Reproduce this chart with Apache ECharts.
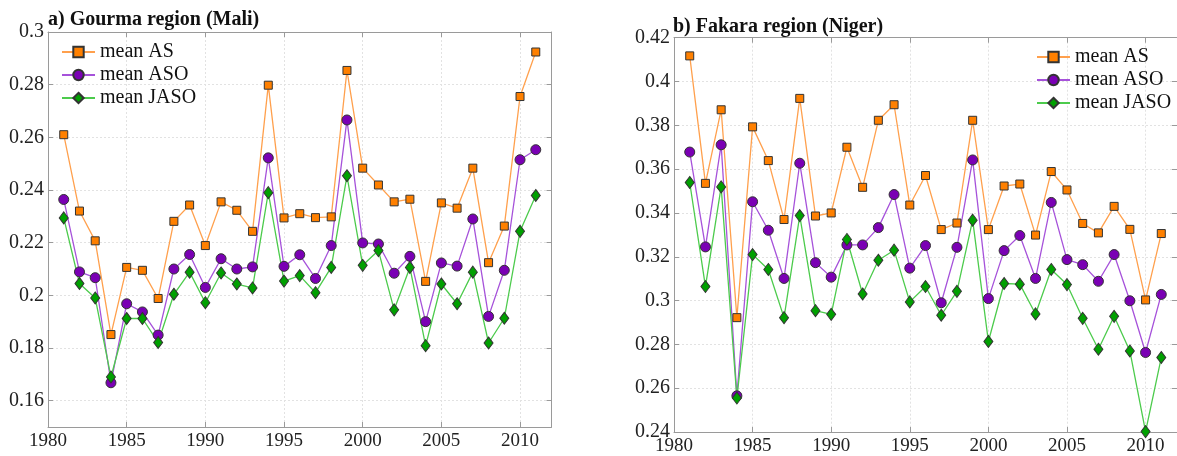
<!DOCTYPE html>
<html><head><meta charset="utf-8">
<script src="https://cdn.jsdelivr.net/npm/echarts@6/dist/echarts.min.js"></script>
<style>html,body{margin:0;padding:0;background:#fff}#c{width:1177px;height:456px}</style>
</head><body><div id="c"></div>
<script>
const years = [1981,1982,1983,1984,1985,1986,1987,1988,1989,1990,1991,1992,1993,1994,1995,1996,1997,1998,1999,2000,2001,2002,2003,2004,2005,2006,2007,2008,2009,2010,2011];

// a) Gourma region (Mali)
const gourmaAS   = [0.261,0.232,0.2207,0.1851,0.2106,0.2095,0.1988,0.2281,0.2343,0.2189,0.2355,0.2323,0.2243,0.2798,0.2294,0.231,0.2295,0.2298,0.2854,0.2483,0.2419,0.2355,0.2365,0.2053,0.2351,0.2331,0.2483,0.2124,0.2263,0.2755,0.2924];
const gourmaASO  = [0.2364,0.2089,0.2067,0.1668,0.1968,0.1937,0.1849,0.21,0.2155,0.203,0.2139,0.21,0.2108,0.2522,0.211,0.2154,0.2064,0.2189,0.2666,0.2199,0.2195,0.2084,0.2148,0.19,0.2123,0.2111,0.229,0.192,0.2095,0.2515,0.2553];
const gourmaJASO = [0.2294,0.2045,0.199,0.169,0.1912,0.1912,0.1821,0.2004,0.2088,0.1972,0.2085,0.2043,0.2028,0.239,0.2054,0.2075,0.201,0.2106,0.2454,0.2114,0.217,0.1945,0.2106,0.1809,0.2043,0.1968,0.2088,0.1819,0.1913,0.2243,0.2379];

// b) Fakara region (Niger)
const fakaraAS   = [0.4117,0.3535,0.3871,0.2922,0.3793,0.3639,0.337,0.3923,0.3386,0.34,0.37,0.3517,0.3823,0.3894,0.3436,0.3571,0.3324,0.3354,0.3823,0.3324,0.3523,0.3532,0.3299,0.3589,0.3505,0.3352,0.3309,0.343,0.3325,0.3003,0.3306];
const fakaraASO  = [0.3678,0.3245,0.3711,0.2565,0.3451,0.3321,0.3101,0.3627,0.3173,0.3107,0.3254,0.3254,0.3333,0.3484,0.3148,0.3251,0.299,0.3243,0.3642,0.3009,0.3228,0.3297,0.3101,0.3448,0.3187,0.3164,0.3088,0.321,0.2999,0.2763,0.3028];
const fakaraJASO = [0.3539,0.3064,0.3519,0.2555,0.321,0.3142,0.2922,0.3388,0.2954,0.2937,0.3279,0.303,0.3184,0.323,0.2994,0.3064,0.2933,0.3042,0.3367,0.2813,0.3078,0.3075,0.2939,0.3142,0.3073,0.2919,0.2778,0.2928,0.277,0.2402,0.274];

const xTicks = [1980,1985,1990,1995,2000,2005,2010];
const yTicksLeft = [0.16,0.18,0.2,0.22,0.24,0.26,0.28,0.3];
const yTicksRight = [0.24,0.26,0.28,0.3,0.32,0.34,0.36,0.38,0.4,0.42];
const seriesNames = ['mean AS','mean ASO','mean JASO'];
const titles = ['a) Gourma region (Mali)','b) Fakara region (Niger)'];

const FONT = 'Liberation Serif';
const styles = [
  {line:'#FFA04D', fill:'#FF8000', symbol:'rect', size:8},
  {line:'#A652DA', fill:'#7A00B4', symbol:'circle', size:10},
  {line:'#4CCB4C', fill:'#00A000', symbol:'diamond', size:[9,12]}
];
const gridLine = {show:true, lineStyle:{color:'#e2e2e2', type:[2,2], width:1}};
const axLine = {show:true, onZero:false, lineStyle:{color:'#9a9a9a', width:1}};

function xAx(grid, pos, showLabel) {
  return {type:'value', gridIndex:grid, position:pos, min:1980, max:2012,
    axisLine:axLine,
    axisTick:{show:true, inside:true, length:5, customValues:xTicks, lineStyle:{color:'#9a9a9a'}},
    axisLabel:{show:showLabel, customValues:xTicks, margin:5, fontFamily:FONT, fontSize:19, color:'#222',
      formatter:v=>String(Math.round(v))},
    splitLine: showLabel ? gridLine : {show:false}};
}
function yAx(grid, pos, min, max, ticks, showLabel) {
  return {type:'value', gridIndex:grid, position:pos, min:min, max:max,
    axisLine:axLine,
    axisTick:{show:true, inside:true, length:5, customValues:ticks, lineStyle:{color:'#9a9a9a'}},
    axisLabel:{show:showLabel, customValues:ticks, margin:4, fontFamily:FONT, fontSize:20, color:'#222',
      formatter:v=>String(parseFloat(Number(v).toFixed(2)))},
    splitLine: showLabel ? gridLine : {show:false}};
}
function mk(name, vals, axIdx, st) {
  return {name:name, type:'line', xAxisIndex:axIdx, yAxisIndex:axIdx,
    data: years.map((y,i)=>[y, vals[i]]),
    symbol: st.symbol, symbolSize: st.size, showAllSymbol:true,
    lineStyle:{color:st.line, width:1.3},
    itemStyle:{color:st.fill, borderColor:'#333', borderWidth:1},
    emphasis:{disabled:true}, animation:false};
}
const legendBase = {orient:'vertical', itemWidth:33, itemHeight:13, itemGap:3,
  textStyle:{fontFamily:FONT, fontSize:20, color:'#111', lineHeight:20}, padding:0};

const chart = echarts.init(document.getElementById('c'), null, {renderer:'canvas'});
chart.setOption({
  animation:false,
  backgroundColor:'#fff',
  textStyle:{fontFamily:FONT},
  title:[
    {text:titles[0], left:48, top:10, padding:0, textStyle:{fontFamily:FONT, fontSize:20, fontWeight:'bold', color:'#111'}},
    {text:titles[1], left:673, top:17, padding:0, textStyle:{fontFamily:FONT, fontSize:20, fontWeight:'bold', color:'#111'}}
  ],
  grid:[
    {left:48, top:32, width:503.5, height:395},
    {left:674, top:37.7, width:506, height:398}
  ],
  xAxis:[xAx(0,'bottom',true), xAx(0,'top',false), xAx(1,'bottom',true), xAx(1,'top',false)],
  yAxis:[yAx(0,'left',0.15,0.3,yTicksLeft,true), yAx(0,'right',0.15,0.3,yTicksLeft,false),
         yAx(1,'left',0.24,0.42,yTicksRight,true), yAx(1,'right',0.24,0.42,yTicksRight,false)],
  legend:[
    Object.assign({}, legendBase, {left:61, top:42, data:seriesNames.slice()}),
    Object.assign({}, legendBase, {left:1036, top:47, data:seriesNames.slice()})
  ],
  series:[
    mk(seriesNames[0], gourmaAS, 0, styles[0]),
    mk(seriesNames[1], gourmaASO, 0, styles[1]),
    mk(seriesNames[2], gourmaJASO, 0, styles[2]),
    mk(seriesNames[0], fakaraAS, 2, styles[0]),
    mk(seriesNames[1], fakaraASO, 2, styles[1]),
    mk(seriesNames[2], fakaraJASO, 2, styles[2])
  ]
});
</script></body></html>
